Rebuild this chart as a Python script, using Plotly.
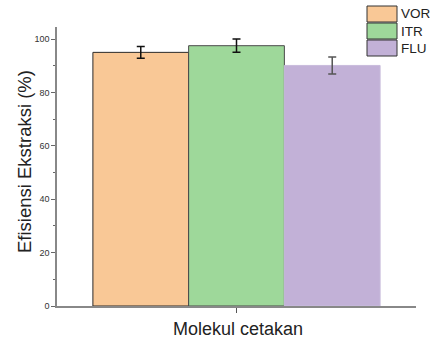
import plotly.graph_objects as go

series = ["VOR", "ITR", "FLU"]
values = [95.0, 97.5, 90.1]
errors = [2.2, 2.5, 3.2]
colors = ["#F9C896", "#9ED89A", "#C2B1D7"]
line_colors = ["#2a2a2a", "#4a4a4a", "#c8bcdc"]
err_colors = ["#111111", "#111111", "#555555"]
yticks = [0, 20, 40, 60, 80, 100]

fig = go.Figure()
for s, v, e, c, lc, ec in zip(series, values, errors, colors, line_colors, err_colors):
    fig.add_trace(go.Bar(
        x=[0], y=[v], name=s,
        marker=dict(color=c, line=dict(color=lc, width=1)),
        error_y=dict(type="data", array=[e], color=ec, thickness=1.5, width=4),
        showlegend=False,
    ))

fig.update_layout(
    width=431, height=339,
    margin=dict(l=57, r=15, t=27, b=33),
    paper_bgcolor="white", plot_bgcolor="white",
    barmode="group", bargap=0.2, bargroupgap=0,
    font=dict(family="Liberation Sans, Arial, sans-serif", color="#222"),
    xaxis=dict(range=[-0.5, 0.5], tickvals=[0], ticktext=[""], ticks="outside",
               ticklen=5, tickcolor="#555", showline=True, linecolor="#888",
               linewidth=1.5, showgrid=False, zeroline=False),
    yaxis=dict(range=[0, 104.5], tickvals=yticks, ticks="outside", ticklen=4,
               tickcolor="#666", showline=True, linecolor="#888", linewidth=1.5,
               showgrid=False, zeroline=False, tickfont=dict(size=9, color="#333"),
               minor=dict(tickvals=[10, 30, 50, 70, 90], ticks="outside", ticklen=2,
                          tickcolor="#666")),
)

pw, ph = 431 - 57 - 15, 339 - 27 - 33
def px(x):
    return (x - 57) / pw
def py(y):
    return (306 - y) / ph

for i, (s, c) in enumerate(zip(series, colors)):
    top = 6 + i * 17
    fig.add_shape(type="rect", xref="paper", yref="paper",
                  x0=px(367), x1=px(397), y0=py(top + 16), y1=py(top),
                  fillcolor=c, line=dict(color="#333333", width=1))
    fig.add_annotation(xref="paper", yref="paper", x=px(399), y=py(top + 8),
                       text=s, showarrow=False, xanchor="left", yanchor="middle",
                       font=dict(size=13.5, color="#222"))

fig.add_annotation(xref="paper", yref="paper", x=px(238), y=py(329),
                   text="Molekul cetakan", showarrow=False, xanchor="center",
                   yanchor="middle", font=dict(size=18, color="#222"))
fig.add_annotation(xref="paper", yref="paper", x=px(24), y=py(162),
                   text="Efisiensi Ekstraksi (%)", showarrow=False, textangle=-90,
                   xanchor="center", yanchor="middle", font=dict(size=18.5, color="#222"))

fig.write_html("out.html")
